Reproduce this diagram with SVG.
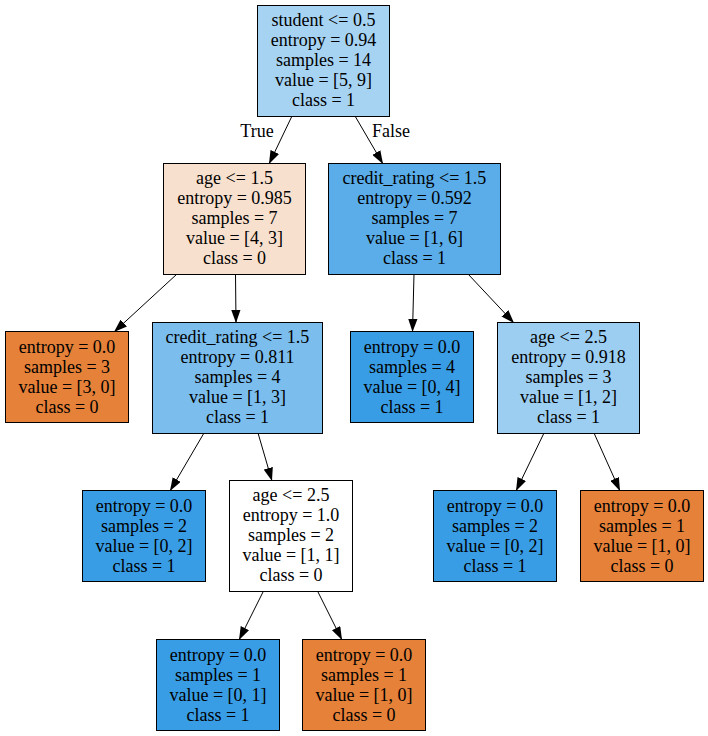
<svg xmlns="http://www.w3.org/2000/svg" width="708" height="736" viewBox="0 0 708 736">
<defs>
<style>
.n rect{stroke:#000;stroke-width:1}
.n text{font-family:"Liberation Serif","Times New Roman",serif;font-size:18px;fill:#000;text-anchor:middle}
.e line{stroke:#000;stroke-width:1}
.lbl{font-family:"Liberation Serif","Times New Roman",serif;font-size:18px;fill:#000;text-anchor:middle}
</style>
<marker id="ah" markerUnits="userSpaceOnUse" markerWidth="13.4" markerHeight="9.4" refX="13.3" refY="4.7" orient="auto">
<path d="M0,0 L13.3,4.7 L0,9.4 z" fill="#000"/>
</marker>
</defs>
<rect width="708" height="736" fill="#fff"/>
<g id="edges" class="e">
<line x1="292" y1="116" x2="269" y2="164" marker-end="url(#ah)"/>
<line x1="355" y1="116" x2="383" y2="164" marker-end="url(#ah)"/>
<line x1="177" y1="274" x2="114" y2="332" marker-end="url(#ah)"/>
<line x1="235.5" y1="274" x2="236" y2="323" marker-end="url(#ah)"/>
<line x1="414" y1="274" x2="412.5" y2="332" marker-end="url(#ah)"/>
<line x1="468" y1="274" x2="514" y2="323" marker-end="url(#ah)"/>
<line x1="204" y1="433" x2="170" y2="491" marker-end="url(#ah)"/>
<line x1="258" y1="433" x2="272" y2="481" marker-end="url(#ah)"/>
<line x1="263" y1="592" x2="239" y2="640" marker-end="url(#ah)"/>
<line x1="318" y1="592" x2="342" y2="640" marker-end="url(#ah)"/>
<line x1="544" y1="433" x2="516" y2="491" marker-end="url(#ah)"/>
<line x1="594" y1="433" x2="620" y2="491" marker-end="url(#ah)"/>
<text class="lbl" x="257" y="136.5">True</text>
<text class="lbl" x="391" y="136.5">False</text>
</g>
<g id="n0" class="n">
<rect x="257.5" y="5.5" width="132" height="111" fill="#a7d3f3"/>
<text x="323.5" y="25.5">student &lt;= 0.5</text>
<text x="323.5" y="45.5">entropy = 0.94</text>
<text x="323.5" y="65.5">samples = 14</text>
<text x="323.5" y="85.5">value = [5, 9]</text>
<text x="323.5" y="105.5">class = 1</text>
</g>
<g id="n1" class="n">
<rect x="163.5" y="163.5" width="142" height="111" fill="#f8e0ce"/>
<text x="234.5" y="184">age &lt;= 1.5</text>
<text x="234.5" y="204">entropy = 0.985</text>
<text x="234.5" y="224">samples = 7</text>
<text x="234.5" y="244">value = [4, 3]</text>
<text x="234.5" y="264">class = 0</text>
</g>
<g id="n2" class="n">
<rect x="5.5" y="331.5" width="123" height="91" fill="#e58139"/>
<text x="67" y="352.5">entropy = 0.0</text>
<text x="67" y="372.5">samples = 3</text>
<text x="67" y="392.5">value = [3, 0]</text>
<text x="67" y="412.5">class = 0</text>
</g>
<g id="n3" class="n">
<rect x="152.5" y="322.5" width="170" height="111" fill="#7bbeee"/>
<text x="237.5" y="343">credit_rating &lt;= 1.5</text>
<text x="237.5" y="363">entropy = 0.811</text>
<text x="237.5" y="383">samples = 4</text>
<text x="237.5" y="403">value = [1, 3]</text>
<text x="237.5" y="423">class = 1</text>
</g>
<g id="n4" class="n">
<rect x="82.5" y="490.5" width="123" height="91" fill="#399de5"/>
<text x="144" y="511.5">entropy = 0.0</text>
<text x="144" y="531.5">samples = 2</text>
<text x="144" y="551.5">value = [0, 2]</text>
<text x="144" y="571.5">class = 1</text>
</g>
<g id="n5" class="n">
<rect x="229.5" y="480.5" width="123" height="111" fill="#ffffff"/>
<text x="291" y="501">age &lt;= 2.5</text>
<text x="291" y="521">entropy = 1.0</text>
<text x="291" y="541">samples = 2</text>
<text x="291" y="561">value = [1, 1]</text>
<text x="291" y="581">class = 0</text>
</g>
<g id="n6" class="n">
<rect x="156.5" y="639.5" width="123" height="91" fill="#399de5"/>
<text x="218" y="660.5">entropy = 0.0</text>
<text x="218" y="680.5">samples = 1</text>
<text x="218" y="700.5">value = [0, 1]</text>
<text x="218" y="720.5">class = 1</text>
</g>
<g id="n7" class="n">
<rect x="302.5" y="639.5" width="123" height="91" fill="#e58139"/>
<text x="364" y="660.5">entropy = 0.0</text>
<text x="364" y="680.5">samples = 1</text>
<text x="364" y="700.5">value = [1, 0]</text>
<text x="364" y="720.5">class = 0</text>
</g>
<g id="n8" class="n">
<rect x="328.5" y="163.5" width="172" height="111" fill="#5aade9"/>
<text x="414.5" y="184">credit_rating &lt;= 1.5</text>
<text x="414.5" y="204">entropy = 0.592</text>
<text x="414.5" y="224">samples = 7</text>
<text x="414.5" y="244">value = [1, 6]</text>
<text x="414.5" y="264">class = 1</text>
</g>
<g id="n9" class="n">
<rect x="350.5" y="331.5" width="123" height="91" fill="#399de5"/>
<text x="412" y="352.5">entropy = 0.0</text>
<text x="412" y="372.5">samples = 4</text>
<text x="412" y="392.5">value = [0, 4]</text>
<text x="412" y="412.5">class = 1</text>
</g>
<g id="n10" class="n">
<rect x="497.5" y="322.5" width="142" height="111" fill="#9ccef2"/>
<text x="568.5" y="343">age &lt;= 2.5</text>
<text x="568.5" y="363">entropy = 0.918</text>
<text x="568.5" y="383">samples = 3</text>
<text x="568.5" y="403">value = [1, 2]</text>
<text x="568.5" y="423">class = 1</text>
</g>
<g id="n11" class="n">
<rect x="433.5" y="490.5" width="123" height="91" fill="#399de5"/>
<text x="495" y="511.5">entropy = 0.0</text>
<text x="495" y="531.5">samples = 2</text>
<text x="495" y="551.5">value = [0, 2]</text>
<text x="495" y="571.5">class = 1</text>
</g>
<g id="n12" class="n">
<rect x="580.5" y="490.5" width="123" height="91" fill="#e58139"/>
<text x="642" y="511.5">entropy = 0.0</text>
<text x="642" y="531.5">samples = 1</text>
<text x="642" y="551.5">value = [1, 0]</text>
<text x="642" y="571.5">class = 0</text>
</g>
</svg>
